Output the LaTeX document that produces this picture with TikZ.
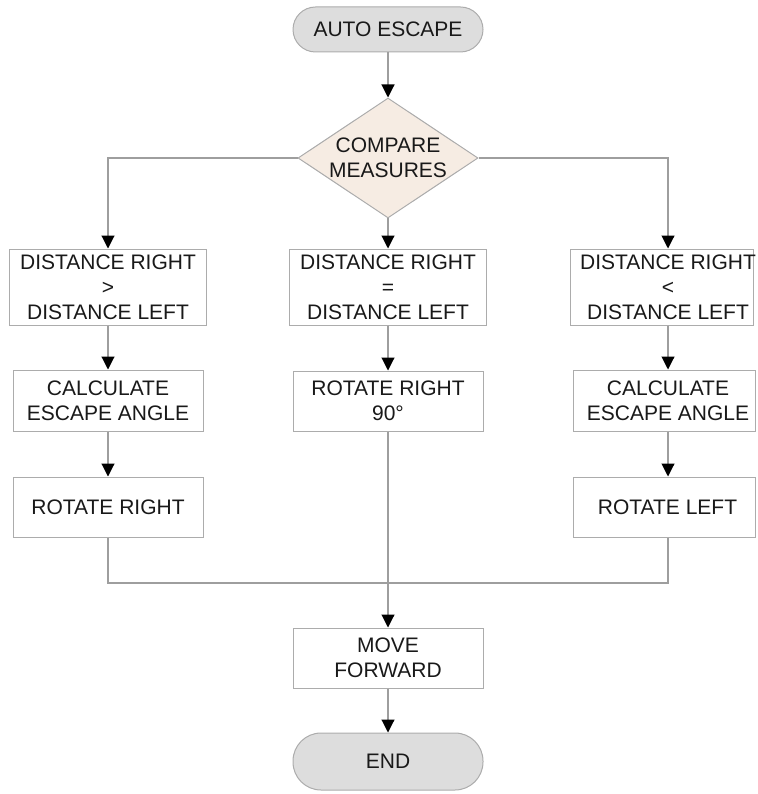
\documentclass[tikz,border=0pt]{standalone}
\usepackage{fontspec}
\setmainfont{Liberation Sans}
\usetikzlibrary{arrows.meta,shapes.geometric}

\definecolor{linegray}{RGB}{158,158,158}
\definecolor{boxgray}{RGB}{172,172,172}
\definecolor{termfill}{RGB}{221,221,221}
\definecolor{decfill}{RGB}{246,236,227}
\definecolor{ink}{RGB}{25,25,25}

\begin{document}
\begin{tikzpicture}[x=1pt,y=-1pt,
  font=\fontsize{21pt}{25pt}\selectfont,
  every node/.style={inner sep=0pt, align=center, text=ink},
  terminal/.style={draw=boxgray, fill=termfill, line width=1pt,
    rounded corners=#1, minimum width=190pt},
  decision/.style={diamond, draw=boxgray, fill=decfill, line width=1pt,
    minimum width=180pt, minimum height=120pt},
  procbox/.style={draw=boxgray, fill=white, line width=1pt},
  link/.style={draw=linegray, line width=1.1pt},
  flow/.style={link, -{Triangle[width=13pt,length=13pt,black]}}]

  \useasboundingbox (0,0) rectangle (757,794);

  % column axes
  \coordinate (colL) at (108,0);
  \coordinate (colM) at (388,0);
  \coordinate (colR) at (668,0);

  % start and decision
  \node[terminal=22.5pt, minimum height=45pt] (start) at (388,29.5) {AUTO ESCAPE};
  \node[decision, label={center:{COMPARE\\MEASURES}}] (cmp) at (388,158) {};

  % comparison outcomes
  \node[procbox, minimum width=197pt, minimum height=76pt] (d1) at (108,287)
    {DISTANCE RIGHT\\>\\DISTANCE LEFT};
  \node[procbox, minimum width=197pt, minimum height=76pt] (d2) at (388,287)
    {DISTANCE RIGHT\\=\\DISTANCE LEFT};
  \node[procbox, minimum width=183pt, minimum height=76pt,
    label={[xshift=6.5pt]center:{DISTANCE RIGHT\\<\\DISTANCE LEFT}}] (d3) at (661.5,287) {};

  % second row
  \node[procbox, minimum width=190pt, minimum height=61pt] (c1) at (108,400.5)
    {CALCULATE\\ESCAPE ANGLE};
  \node[procbox, minimum width=190pt, minimum height=60pt] (m2) at (388,401)
    {ROTATE RIGHT\\90°};
  \node[procbox, minimum width=182pt, minimum height=61pt,
    label={[xshift=4pt]center:{CALCULATE\\ESCAPE ANGLE}}] (c3) at (664,400.5) {};

  % third row
  \node[procbox, minimum width=190pt, minimum height=60pt] (r1) at (108,507)
    {ROTATE RIGHT};
  \node[procbox, minimum width=182pt, minimum height=60pt,
    label={[xshift=3.5pt]center:{ROTATE LEFT}}] (r3) at (664,507) {};

  % final steps
  \node[procbox, minimum width=190pt, minimum height=60pt] (mv) at (388,658)
    {MOVE\\FORWARD};
  \node[terminal=28pt, minimum height=57pt] (end) at (388,761.5) {END};

  \coordinate (join) at (388,583);

  % connectors
  \draw[flow] (start.south) -- (cmp.north);
  \draw[flow] (cmp.west) -| (d1.north);
  \draw[flow] (cmp.south) -- (d2.north);
  \draw[flow] (cmp.east) -| (colR |- d3.north);

  \draw[flow] (d1.south) -- (c1.north);
  \draw[flow] (c1.south) -- (r1.north);
  \draw[flow] (d2.south) -- (m2.north);
  \draw[flow] (colR |- d3.south) -- (colR |- c3.north);
  \draw[flow] (colR |- c3.south) -- (colR |- r3.north);

  \draw[link] (r1.south) |- (join);
  \draw[link] (colR |- r3.south) |- (join);
  \draw[flow] (m2.south) -- (mv.north);
  \draw[flow] (mv.south) -- (end.north);
\end{tikzpicture}
\end{document}
